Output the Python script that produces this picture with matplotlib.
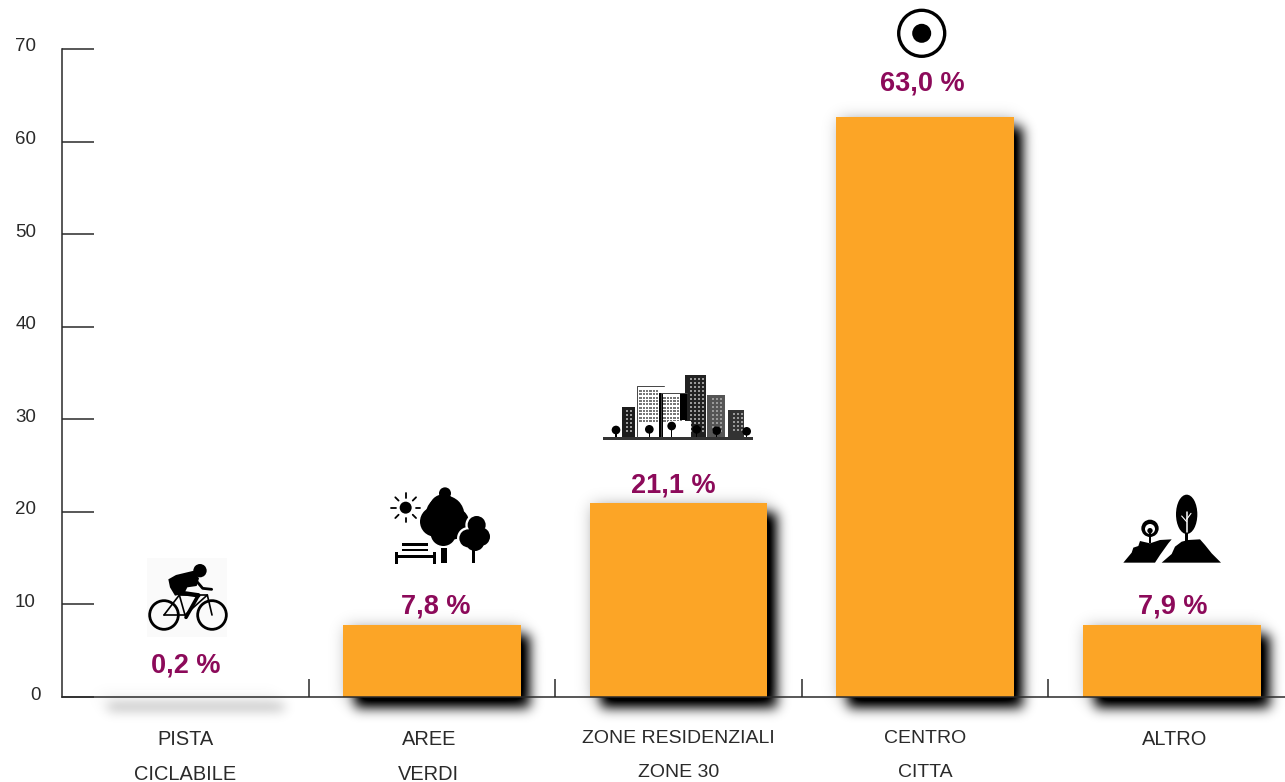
import numpy as np
import matplotlib
matplotlib.use("Agg")
import matplotlib.pyplot as plt
from matplotlib.patches import Circle, Ellipse, Polygon, Rectangle
from matplotlib.transforms import Affine2D

categories = ["PISTA\nCICLABILE", "AREE\nVERDI", "ZONE RESIDENZIALI\nZONE 30", "CENTRO\nCITTA", "ALTRO"]
bar_values = [0.2, 7.8, 21.0, 62.7, 7.8]
value_labels = ["0,2 %", "7,8 %", "21,1 %", "63,0 %", "7,9 %"]
y_ticks = [0, 10, 20, 30, 40, 50, 60, 70]

W, H = 1285, 782
ORANGE = "#fca526"
PURPLE = "#8c0a5a"
INK = "#2a2a2a"

plt.rcParams["font.family"] = ["Liberation Sans", "DejaVu Sans"]

fig = plt.figure(figsize=(W / 100, H / 100), dpi=100, facecolor="white")

# axes box in pixels: x 62 to the right edge, y 697 (zero) up to 49 (70)
ax = fig.add_axes([62 / W, (H - 697) / H, (W - 62) / W, 648 / H])
ax.patch.set_visible(False)
x = np.arange(len(categories))
bars = ax.bar(x, bar_values, width=0.72, color=ORANGE, zorder=1)
bars[0].set_facecolor("none")  # too thin to show next to the axis line
ax.set_xlim(-0.5, 4.459)
ax.set_ylim(0, 70)

for side in ["top", "right"]:
    ax.spines[side].set_visible(False)
for side in ["left", "bottom"]:
    ax.spines[side].set_color(INK)
    ax.spines[side].set_linewidth(1.1)
    ax.spines[side].set_zorder(3)

ax.set_yticks(y_ticks)
ax.set_yticklabels([str(v) for v in y_ticks], fontsize=13.5, color=INK)
ax.tick_params(axis="y", direction="in", length=23, width=1.1, color=INK, pad=18)
for i, label in enumerate(ax.get_yticklabels()):
    shift = Affine2D().translate(4 if i == 0 else -1, 4)
    label.set_transform(label.get_transform() + shift)

# separators between the categories, names centred under the bars
ax.set_xticks(x[:-1] + 0.5)
ax.set_xticklabels([])
ax.tick_params(axis="x", which="major", direction="in", length=13, width=1.1, color=INK)
ax.set_xticks(x, minor=True)
ax.set_xticklabels(categories, minor=True, color=INK)
ax.tick_params(axis="x", which="minor", length=0, pad=24)
name_sizes = [14.4, 14.4, 14, 14, 14.4]
name_spacing = [2.03, 2.03, 2.27, 2.27, 2.03]
name_shifts = [0, -3, 0, 0, 3]
for i, label in enumerate(ax.get_xticklabels(minor=True)):
    label.set_fontsize(name_sizes[i])
    label.set_linespacing(name_spacing[i])
    label.set_transform(label.get_transform() + Affine2D().translate(name_shifts[i], 0))

# gap above each bar, in points, and sideways nudge
gaps = [12, 3.5, 3, 14.5, 3.5]
nudges = [0.5, 3, -3.5, -2, 1]
for i, label in enumerate(value_labels):
    ax.annotate(label, (x[i], bar_values[i]), xytext=(nudges[i], gaps[i]), textcoords="offset points",
                ha="center", va="bottom", fontsize=19.5, fontweight="bold", color=PURPLE)


# soft drop shadow, built from the bar rectangles
def gauss(a, sigma):
    r = int(3 * sigma)
    k = np.exp(-0.5 * (np.arange(-r, r + 1) / sigma) ** 2)
    k /= k.sum()
    a = np.apply_along_axis(lambda m: np.convolve(m, k, mode="same"), 0, a)
    a = np.apply_along_axis(lambda m: np.convolve(m, k, mode="same"), 1, a)
    return a


mask = np.zeros((H + 60, W + 60))
halo = np.zeros((H + 60, W + 60))
for bar in ax.patches:
    (x0, y0), (x1, y1) = ax.transData.transform(bar.get_bbox().get_points())
    mask[int(H - y1) + 11:int(H - y0) + 11, int(x0) + 12:int(x1) + 10] = 1
    halo[int(H - y1) + 2:int(H - y0) + 2, int(x0) + 2:int(x1) + 2] = 1
alpha = np.clip(gauss(mask, 6) + 0.25 * gauss(halo, 8), 0, 1)[:H, :W]
shadow = np.zeros((H, W, 4))
shadow[..., 3] = alpha
fig.figimage(shadow, 0, 0, origin="upper", zorder=-1)

# pictograms, in plain pixel coordinates
ov = fig.add_axes([0, 0, 1, 1], zorder=5)
ov.set_xlim(0, W)
ov.set_ylim(H, 0)
ov.axis("off")


def zoomed(ox, oy, pts):
    return [(ox + px / 3, oy + py / 3) for px, py in pts]


def blob(ox, oy, cx, cy, r, c="black"):
    ov.add_patch(Circle((ox + cx / 3, oy + cy / 3), r / 3, fc=c, ec="none"))


def box(ox, oy, x0, y0, x1, y1, c="black"):
    ov.add_patch(Rectangle((ox + x0 / 3, oy + y0 / 3), (x1 - x0) / 3, (y1 - y0) / 3, fc=c, ec="none"))


def line(ox, oy, pts, lw, c="black"):
    xy = np.array(zoomed(ox, oy, pts))
    ov.plot(xy[:, 0], xy[:, 1], color=c, lw=lw, solid_capstyle="round", solid_joinstyle="round")


# cyclist
ox, oy = 100, 480
ov.add_patch(Rectangle((147, 558), 80, 79, fc="#fafafa", ec="none"))
for cx in [192, 336]:
    ov.add_patch(Circle((ox + cx / 3, oy + 405 / 3), 43 / 3, fc="none", ec="black", lw=2.0))
blob(ox, oy, 300, 272, 20)
ov.add_patch(Polygon(zoomed(ox, oy, [(205, 298), (228, 285), (282, 272), (297, 295), (290, 318), (262, 322),
                                     (252, 342), (225, 347), (210, 322)]), fc="black", ec="none"))
line(ox, oy, [(285, 298), (308, 325), (335, 328)], 2.0)
line(ox, oy, [(240, 338), (295, 346)], 3.2)
line(ox, oy, [(295, 346), (258, 412)], 2.6)
line(ox, oy, [(192, 405), (238, 345), (322, 345), (336, 405)], 1.2)
line(ox, oy, [(192, 405), (255, 405), (322, 345)], 1.2)
line(ox, oy, [(238, 345), (255, 405)], 1.2)

# park
for cx, cy, r in [(1035, 40, 18), (1030, 85, 42), (1005, 125, 45), (1060, 130, 48), (1035, 105, 58),
                  (1030, 160, 38)]:
    blob(ox, oy, cx, cy, r)
small_crown = [(1130, 135, 27), (1142, 170, 28), (1105, 175, 27), (1125, 185, 28)]
for cx, cy, r in small_crown:
    blob(ox, oy, cx, cy, r + 7, "white")
for cx, cy, r in small_crown:
    blob(ox, oy, cx, cy, r)
box(ox, oy, 1024, 205, 1040, 250)
box(ox, oy, 1115, 210, 1124, 250)
blob(ox, oy, 917, 83, 18)
for a in np.radians(np.arange(0, 360, 45)):
    line(ox, oy, [(917 + 30 * np.cos(a), 83 + 30 * np.sin(a)), (917 + 44 * np.cos(a), 83 + 44 * np.sin(a))], 1.3)
box(ox, oy, 905, 188, 985, 198)
box(ox, oy, 905, 206, 985, 214)
box(ox, oy, 885, 224, 1007, 233)
box(ox, oy, 885, 215, 894, 252)
box(ox, oy, 998, 215, 1007, 252)

# city
ox, oy = 570, 360
buildings = [(155, 140, 195, "#1c1c1c"), (200, 78, 282, "white"), (272, 98, 350, "white"),
             (345, 45, 408, "#222222"), (412, 105, 465, "#555555"), (475, 150, 522, "#333333")]
for x0, top, x1, c in buildings:
    box(ox, oy, x0, top, x1, 232, c)
    if c == "white":
        line(ox, oy, [(x0, 232), (x0, top), (x1, top)], 0.7, "#444444")
        for wy in range(top + 12, 190, 10):
            for wx in range(x0 + 8, x1 - 18, 10):
                box(ox, oy, wx, wy, wx + 7, wy + 6, "#777777")
    else:
        for wy in range(top + 10, 215, 12):
            for wx in range(x0 + 14, x1 - 8, 12):
                box(ox, oy, wx, wy, wx + 6, wy + 6, "#999999")
box(ox, oy, 268, 100, 278, 232)
box(ox, oy, 330, 98, 350, 180)
box(ox, oy, 295, 182, 362, 232, "white")
for cx, cy in [(138, 210), (238, 208), (305, 198), (380, 208), (440, 212), (530, 214)]:
    blob(ox, oy, cx, cy, 13)
    box(ox, oy, cx - 2, cy, cx + 2, 232)
box(ox, oy, 98, 232, 548, 241, "#333333")

# target
ov.add_patch(Circle((921.7, 33.3), 23, fc="white", ec="black", lw=2.4))
ov.add_patch(Circle((921.7, 33.3), 9.5, fc="black", ec="none"))

# hills
ox, oy = 1040, 480
ov.add_patch(Polygon(zoomed(ox, oy, [(250, 248), (275, 218), (280, 203), (295, 198), (300, 183), (330, 190), (360, 180),
                                     (395, 178), (385, 190), (360, 225), (345, 248)]), fc="black", ec="none"))
ov.add_patch(Polygon(zoomed(ox, oy, [(365, 248), (395, 222), (405, 200), (425, 185), (445, 180), (480, 178),
                                     (495, 195), (515, 220), (543, 248)]), fc="black", ec="none"))
ov.add_patch(Ellipse((ox + 440 / 3, oy + 103 / 3), 64 / 3, 118 / 3, fc="black", ec="none"))
line(ox, oy, [(440, 95), (440, 155)], 1.1, "white")
line(ox, oy, [(440, 125), (425, 108)], 0.8, "white")
line(ox, oy, [(440, 118), (453, 100)], 0.8, "white")
box(ox, oy, 436, 155, 444, 182)
blob(ox, oy, 330, 145, 26)
blob(ox, oy, 330, 147, 15, "white")
blob(ox, oy, 330, 152, 8)
box(ox, oy, 326, 152, 334, 190)

fig.savefig("out.png", dpi=100)
